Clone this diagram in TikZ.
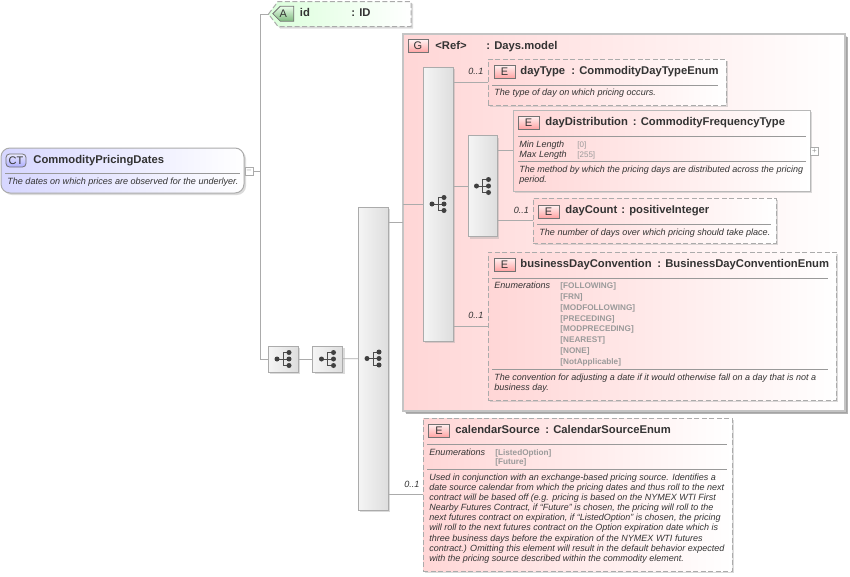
\documentclass[tikz,border=0pt]{standalone}
\usepackage{fontspec}
\setmainfont{Liberation Sans}
\usetikzlibrary{shadows,shapes.misc}
\definecolor{linegray}{HTML}{ABABAB}
\definecolor{txtdark}{HTML}{333333}
\definecolor{txtgray}{HTML}{9A9A9A}
\tikzset{
  boxbase/.style={inner sep=0pt,outer sep=0pt,line width=1pt,
    drop shadow={shadow xshift=2pt,shadow yshift=-2pt,fill=black!35,opacity=.4}},
  elemopt/.style={boxbase,draw=linegray,dash pattern=on 5pt off 2.5pt,left color=red!16,right color=white},
  elemreq/.style={boxbase,draw=linegray!85,left color=red!16,right color=white},
  groupbox/.style={boxbase,draw=linegray!70,line width=1.2pt,left color=red!16,right color=white,
    drop shadow={shadow xshift=2.5pt,shadow yshift=-2.5pt,fill=black!50,opacity=.6}},
  seqbox/.style={boxbase,draw=linegray,left color=white!96!black,right color=black!13},
  iconbox/.style={inner sep=0pt,outer sep=0pt,draw=black!55,line width=.8pt,
    minimum width=21pt,minimum height=13pt,top color=red!5,bottom color=red!36,
    text=txtdark,font=\fontsize{11}{12}\selectfont},
  sqbox/.style={inner sep=0pt,outer sep=0pt,draw=linegray,fill=white,minimum size=8pt,
    text=txtgray,font=\fontsize{8}{8}\selectfont},
  title/.style={anchor=base west,inner sep=0pt,text=txtdark,font=\fontsize{11.25}{12}\selectfont\bfseries},
  note/.style={anchor=base west,inner sep=0pt,text=txtdark,font=\fontsize{9.05}{10.1}\selectfont\itshape},
  desc/.style={anchor=north west,align=left,inner sep=0pt,text=txtdark,font=\fontsize{9}{10.1}\selectfont\itshape},
  enumval/.style={anchor=base west,inner sep=0pt,text=txtgray,font=\fontsize{8.2}{9}\selectfont\bfseries},
  seqicon/.pic={
    \draw[line width=.9pt,black!70] (-6,0) -- (0,0) (6,-6.5) -- (0,-6.5) -- (0,6.5) -- (6,6.5) (0,0) -- (6,0);
    \foreach \px/\py in {-6/0,6/-6.5,6/0,6/6.5}
      \fill[black!75] (\px,\py) circle (2.5pt);
  }
}
\begin{document}
\begin{tikzpicture}[x=1pt,y=-1pt,line width=.8pt]
  \useasboundingbox (0,0) rectangle (850,576);
  % boxes
  \node[boxbase,draw=linegray,rounded corners=9pt,left color=blue!16,right color=white,
    minimum width=243pt,minimum height=45pt] (pricing) at (122.5,170.5) {};
  \node[sqbox] (ctminus) at (249,171) {--};
  \coordinate (idtip) at (268.5,14);
  \path[elemopt,left color=green!14] (idtip) -- (278,1.5) -- (411,1.5) -- (411,26.5) -- (278,26.5) -- cycle;
  \node[groupbox,minimum width=442pt,minimum height=377pt] (daysmodel) at (624,222.5) {};
  \node[seqbox,minimum width=30pt,minimum height=26pt] (seqa) at (283,359) {};
  \node[seqbox,minimum width=30pt,minimum height=26pt] (seqb) at (327.5,359) {};
  \node[seqbox,minimum width=30pt,minimum height=303pt] (seqc) at (373,358.5) {};
  \node[seqbox,minimum width=30pt,minimum height=274pt] (seqd) at (438,204) {};
  \node[seqbox,minimum width=29pt,minimum height=101pt] (seqe) at (482.5,186) {};
  \node[elemopt,minimum width=238pt,minimum height=46pt] (daytype) at (607,82) {};
  \node[elemreq,minimum width=297pt,minimum height=81pt] (daydist) at (661.5,150.5) {};
  \node[sqbox] (distplus) at (814.5,151) {+};
  \node[elemopt,minimum width=243pt,minimum height=45pt] (daycount) at (654.5,220.5) {};
  \node[elemopt,minimum width=348pt,minimum height=148pt] (bizday) at (662,326) {};
  \node[elemopt,minimum width=309pt,minimum height=153pt] (calsource) at (577.5,494.5) {};
  % connectors
  \coordinate (trunk) at (260,171);
  \begin{scope}[linegray]
    \draw (ctminus) -- (trunk);
    \draw (idtip) -| (trunk);
    \draw (seqa) -| (trunk);
    \draw (seqa) -- (seqb);
    \draw (seqb) -- (seqc);
    \draw (seqc.east |- daysmodel.west) -- (daysmodel.west);
    \draw (seqc.east |- calsource.west) -- (calsource.west);
    \draw (daysmodel.west |- seqd.west) -- (seqd.west);
    \draw (seqd.east |- daytype.west) -- (daytype.west);
    \draw (seqd.east |- seqe.west) -- (seqe.west);
    \draw (seqd.east |- bizday.west) -- (bizday.west);
    \draw (seqe.east |- daydist.west) -- (daydist.west);
    \draw (seqe.east |- daycount.west) -- (daycount.west);
  \end{scope}
  \foreach \s in {seqa,seqb,seqc,seqd,seqe}
    \pic at (\s) {seqicon};
  % separators
  \begin{scope}[line width=1pt,black!40]
    \draw (5,173) coordinate (ctl) -- (240,173) coordinate (ctr);
    \draw (492,85) coordinate (dtl) -- (718,85) coordinate (dtr);
    \draw (518,136) coordinate (ddl) -- (806,136) coordinate (ddr);
    \draw (518,161) coordinate (del) -- (806,161) coordinate (der);
    \draw (537,224) coordinate (dcl) -- (771,224) coordinate (dcr);
    \draw (492,278) coordinate (bzl) -- (828,278) coordinate (bzr);
    \draw (492,369) coordinate (bel) -- (828,369) coordinate (ber);
    \draw (427,444) coordinate (csl) -- (727,444) coordinate (csr);
    \draw (427,469) coordinate (cel) -- (727,469) coordinate (cer);
  \end{scope}
  % icons
  \node[iconbox,rounded corners=3.5pt,minimum width=20pt,top color=blue!8,bottom color=blue!32] (iconct) at (16,160.5) {CT};
  \node[iconbox,chamfered rectangle,chamfered rectangle corners={north west,south west},
    chamfered rectangle xsep=4pt,chamfered rectangle ysep=7pt,top color=green!8,bottom color=green!45!black!50] (iconid) at (283.3,13.7) {A};
  \node[iconbox,minimum width=20pt] (icong) at (418,46) {G};
  \node[iconbox] (icone1) at (504.5,71.5) {E};
  \node[iconbox] (icone2) at (528.5,122.5) {E};
  \node[iconbox] (icone3) at (548.5,211.5) {E};
  \node[iconbox] (icone4) at (504.5,264.5) {E};
  \node[iconbox] (icone5) at (439,430.5) {E};
  % titles
  \node[title] (tct) at (33,163.5) {CommodityPricingDates};
  \node[note] (nct) at (7,184) {The dates on which prices are observed for the underlyer.};
  \node[title] (tid) at (299.5,16) {id};
  \node[title] (tidt) at (351,16) {: ID};
  \node[title] (tref) at (435,49) {<Ref>};
  \node[title] (treft) at (486,49) {: Days.model};
  \node[title] (t1) at (520,74.5) {dayType};
  \node[title] (t1t) at (571,74.5) {: CommodityDayTypeEnum};
  \node[note] (n1) at (494,95.5) {The type of day on which pricing occurs.};
  \node[title] (t2) at (545,125) {dayDistribution};
  \node[title] (t2t) at (632.5,125) {: CommodityFrequencyType};
  \node[note] (k2a) at (519,147) {Min Length};
  \node[note] (k2b) at (519,157) {Max Length};
  \node[enumval,font=\fontsize{8}{9}\selectfont] (v2a) at (577,147) {[0]};
  \node[enumval,font=\fontsize{8}{9}\selectfont] (v2b) at (577,157) {[255]};
  \node[desc] (n2) at (519,165.5) {The method by which the pricing days are distributed across the pricing\\period.};
  \node[title] (t3) at (565,213) {dayCount};
  \node[title] (t3t) at (621,213) {: positiveInteger};
  \node[note] (n3) at (539,235) {The number of days over which pricing should take place.};
  \node[title] (t4) at (520,267) {businessDayConvention};
  \node[title] (t4t) at (657,267) {: BusinessDayConventionEnum};
  \node[note] (k4) at (494,288.5) {Enumerations};
  \foreach \val [count=\i from 0] in {FOLLOWING,FRN,MODFOLLOWING,PRECEDING,MODPRECEDING,NEAREST,NONE,NotApplicable}
    \node[enumval] (v4\i) at (560,288.5+10.85*\i) {[\val]};
  \node[desc] (n4) at (494,373.5) {The convention for adjusting a date if it would otherwise fall on a day that is not a\\business day.};
  \node[title] (t5) at (455,433) {calendarSource};
  \node[title] (t5t) at (545,433) {: CalendarSourceEnum};
  \node[note] (k5) at (429,455) {Enumerations};
  \node[enumval] (v5a) at (495,455) {[ListedOption]};
  \node[enumval] (v5b) at (495,464.5) {[Future]};
  \node[desc] (n5) at (429,473.5) {Used in conjunction with an exchange-based pricing source. Identifies a\\date source calendar from which the pricing dates and thus roll to the next\\contract will be based off (e.g. pricing is based on the NYMEX WTI First\\Nearby Futures Contract, if “Future” is chosen, the pricing will roll to the\\next futures contract on expiration, if “ListedOption” is chosen, the pricing\\will roll to the next futures contract on the Option expiration date which is\\three business days before the expiration of the NYMEX WTI futures\\contract.) Omitting this element will result in the default behavior expected\\with the pricing source described within the commodity element.};
  % multiplicities
  \node[note] (m1) at (468,74) {0..1};
  \node[note] (m3) at (513.5,213) {0..1};
  \node[note] (m4) at (468,318) {0..1};
  \node[note] (m5) at (404,487) {0..1};
\end{tikzpicture}
\end{document}
